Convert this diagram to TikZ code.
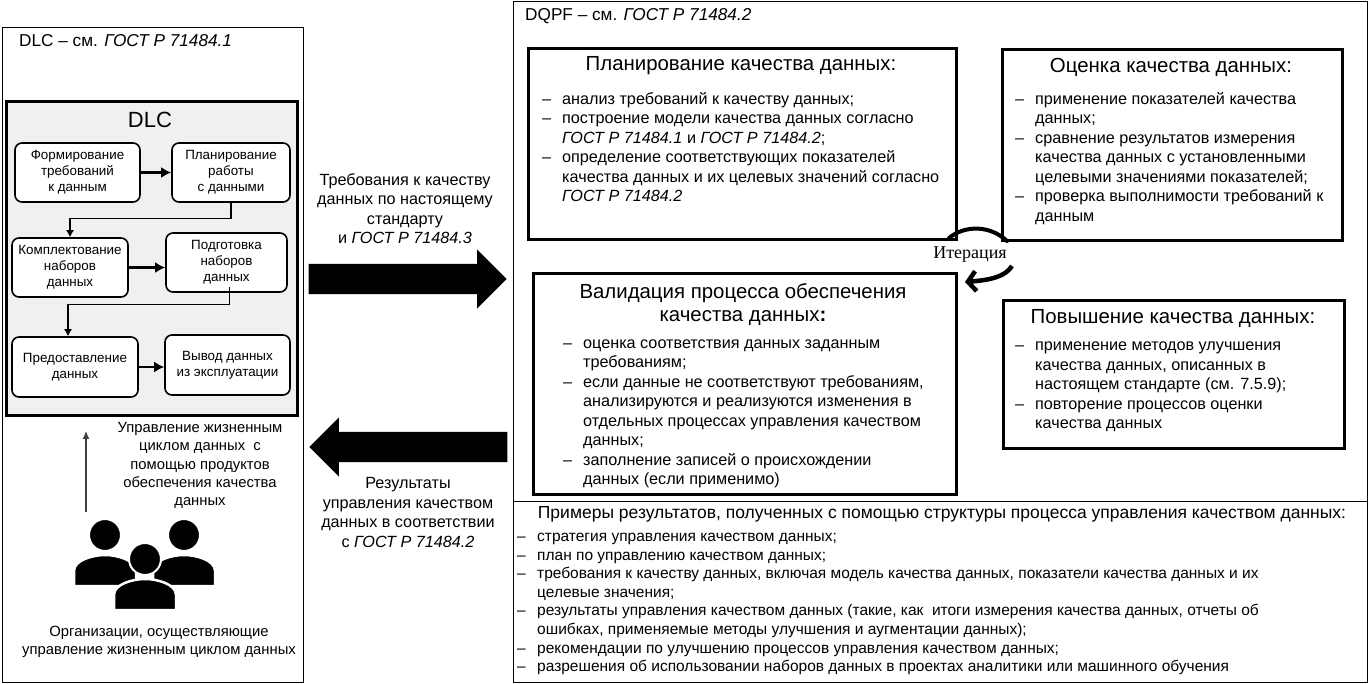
\documentclass[tikz,border=0pt]{standalone}
\usepackage{fontspec}
\setmainfont{Liberation Sans}
\newfontfamily\iterfont{Liberation Serif}
\usepackage{xcolor}
\usetikzlibrary{arrows.meta,positioning,shapes.arrows}
\definecolor{panelgray}{HTML}{F0F0F0}
\definecolor{upgray}{HTML}{404040}
\newcommand{\itm}{\makebox[20pt][l]{–}}
\newcommand{\cnt}{\hspace*{20pt}}
\tikzset{
  framebox/.style={draw=black, line width=0.8pt, anchor=north west, inner sep=0pt},
  qualbox/.style={draw=black, fill=white, line width=3pt, inner sep=0pt, anchor=north west},
  stagebox/.style={
    rounded corners=7pt,
    draw=black,
    fill=white,
    line width=1.6pt,
    align=center,
    font=\fontsize{13.4}{16}\selectfont
  },
  bodytext/.style={align=left, anchor=north west, inner sep=0pt, font=\fontsize{16.2}{19.5}\selectfont},
  listtext/.style={bodytext, font=\fontsize{15.5}{18.6}\selectfont},
  headtext/.style={align=center, inner sep=0pt, font=\fontsize{20.4}{23}\selectfont},
  flowtext/.style={align=center, inner sep=0pt, font=\fontsize{16.2}{19.5}\selectfont},
  usertext/.style={align=center, inner sep=0pt, font=\fontsize{14.8}{18.3}\selectfont},
  notetext/.style={anchor=west, inner sep=0pt, font=\fontsize{17.2}{20}\selectfont},
  bigarrow/.style={single arrow, fill=black, draw=none, inner sep=15pt, minimum height=198pt, single arrow head extend=14.5pt, single arrow tip angle=90, anchor=tip},
  stagearrow/.style={-{Latex[length=10pt,width=11pt]}, line width=2.5pt, draw=black},
  bendarrow/.style={-{Latex[length=7pt,width=8pt]}, line width=1.1pt, draw=black},
  person/.pic={
    \draw[white, fill=black, line width=2.5pt] (-31,31) -- (-31,16) .. controls (-31,5) and (-12,0) .. (0,0) .. controls (12,0) and (31,5) .. (31,16) -- (31,31) -- cycle;
    \draw[white, fill=black, line width=2pt] (0,-20) circle (16);
  }
}
\begin{document}
\begin{tikzpicture}[x=1pt,y=-1pt]
  \useasboundingbox (0,0) rectangle (1369,684);
  % outer frames
  \node[framebox, minimum width=301pt, minimum height=655pt] (leftframe) at (2,27) {};
  \node[framebox, minimum width=854pt, minimum height=500pt] (dqpfframe) at (513,1) {};
  \node[framebox, minimum width=854pt, minimum height=181pt] (resframe) at (513,501) {};
  \node[notetext] (dlcnote) at (19,41) {DLC – см. \textit{ГОСТ Р 71484.1}};
  \node[notetext] (dqpfnote) at (525,16) {DQPF – см. \textit{ГОСТ Р 71484.2}};

  % DLC panel
  \node[draw=black, fill=panelgray, line width=3pt, anchor=north west, minimum width=291pt, minimum height=314pt, inner sep=0pt] (panel) at (5,100) {};
  \node[inner sep=0pt, font=\fontsize{22}{26}\selectfont] (dlctitle) at (150,120) {DLC};
  \node[stagebox, minimum width=125pt, minimum height=59pt] (formir) at (77.5,172.5) {Формирование\\требований\\к данным};
  \node[stagebox, minimum width=118pt, minimum height=59pt] (plan) at (231,172.5) {Планирование\\работы\\с данными};
  \node[stagebox, minimum width=116pt, minimum height=59pt] (kompl) at (70,267.5) {Комплектование\\наборов\\данных};
  \node[stagebox, minimum width=121pt, minimum height=59pt] (podg) at (226.5,262.5) {Подготовка\\наборов\\данных};
  \node[stagebox, minimum width=126pt, minimum height=60pt] (pred) at (75,367) {Предоставление\\данных};
  \node[stagebox, minimum width=125pt, minimum height=60pt] (vyvod) at (227.5,365) {Вывод данных\\из эксплуатации};
  \foreach \a/\b in {formir/plan,kompl/podg,pred/vyvod} {
    \draw[stagearrow] (\a.east) -- (\a.east -| \b.west);
  }
  \draw[bendarrow] (plan.south) -- ++(0,16) -| (kompl.north);
  \draw[bendarrow] ([xshift=3pt,yshift=6pt]podg.south) -- ++(0,18) -| ([xshift=-7pt]pred.north);

  % users
  \pic at (105,555) {person};
  \pic at (184,555) {person};
  \pic at (145,579) {person};
  \coordinate (crowdtop) at (86,512);
  \coordinate (panelgap) at (86,431);
  \draw[-{Latex[length=8pt,width=7pt]}, line width=1.1pt, draw=upgray] (crowdtop) -- (panelgap);
  \node[usertext] (usetext) at (200,465.5) {Управление жизненным\\циклом данных~ с\\помощью продуктов\\обеспечения качества\\данных};
  \node[usertext] (orgtext) at (159,642) {Организации, осуществляющие\\управление жизненным циклом данных};

  % big arrows
  \node[bigarrow] (reqarrow) at (507,279) {};
  \node[bigarrow, shape border rotate=180] (resarrow) at (309,447) {};
  \node[flowtext] (reqtext) at (405,208.5) {Требования к качеству\\данных по настоящему\\стандарту\\и \textit{ГОСТ Р 71484.3}};
  \node[flowtext] (restext) at (408,512.5) {Результаты\\управления качеством\\данных в соответствии\\с \textit{ГОСТ Р 71484.2}};

  % quality boxes
  \node[qualbox, minimum width=428pt, minimum height=190.5pt] (planbox) at (527,47.5) {};
  \node[qualbox, minimum width=340pt, minimum height=191pt] (evalbox) at (1001,48) {};
  \node[qualbox, minimum width=423pt, minimum height=221pt] (validbox) at (532,272) {};
  \node[qualbox, minimum width=341pt, minimum height=148pt] (improvebox) at (1002,299) {};

  \node[headtext] (planhead) at (741,65.5) {Планирование качества данных:};
  \node[bodytext] (plantext) at (542,92) {\itm анализ требований к качеству данных;\\
    \itm построение модели качества данных согласно\\
    \cnt\textit{ГОСТ Р 71484.1} и \textit{ГОСТ Р 71484.2};\\
    \itm определение соответствующих показателей\\
    \cnt качества данных и их целевых значений согласно\\
    \cnt\textit{ГОСТ Р 71484.2}};
  \node[headtext] (evalhead) at (1171,67) {Оценка качества данных:};
  \node[bodytext] (evaltext) at (1015,92) {\itm применение показателей качества\\
    \cnt данных;\\
    \itm сравнение результатов измерения\\
    \cnt качества данных с установленными\\
    \cnt целевыми значениями показателей;\\
    \itm проверка выполнимости требований к\\
    \cnt данным};
  \node[headtext] (validhead) at (743,304.5) {Валидация процесса обеспечения\\качества данных\textbf{:}};
  \node[bodytext] (validlist) at (563,339.5) {\itm оценка соответствия данных заданным\\
    \cnt требованиям;\\
    \itm если данные не соответствуют требованиям,\\
    \cnt анализируются и реализуются изменения в\\
    \cnt отдельных процессах управления качеством\\
    \cnt данных;\\
    \itm заполнение записей о происхождении\\
    \cnt данных (если применимо)};
  \node[headtext] (improvehead) at (1173,319) {Повышение качества данных:};
  \node[bodytext] (improvetext) at (1015,342) {\itm применение методов улучшения\\
    \cnt качества данных, описанных в\\
    \cnt настоящем стандарте (см. 7.5.9);\\
    \itm повторение процессов оценки\\
    \cnt качества данных};

  % iteration
  \node[inner sep=0pt, font=\iterfont\fontsize{18}{20}\selectfont] (iter) at (970,255) {Итерация};
  \coordinate (iterleft) at (949,238);
  \coordinate (iterright) at (1007,241);
  \draw[line width=4pt, line cap=round] (iterleft) .. controls (965,225) and (990,225) .. (iterright);
  \coordinate (iterstart) at (1012,266);
  \coordinate (iterend) at (965,282);
  \draw[-{Straight Barb[length=8pt,width=20pt]}, line width=4.5pt] (iterstart) .. controls (1005,277) and (990,280) .. (iterend);

  % results
  \node[inner sep=0pt, font=\fontsize{17.5}{20}\selectfont] (reshead) at (942,514) {Примеры результатов, полученных с помощью структуры процесса управления качеством данных:};
  \node[listtext] (reslist) at (517,533) {\itm стратегия управления качеством данных;\\
    \itm план по управлению качеством данных;\\
    \itm требования к качеству данных, включая модель качества данных, показатели качества данных и их\\
    \cnt целевые значения;\\
    \itm результаты управления качеством данных (такие, как~ итоги измерения качества данных, отчеты об\\
    \cnt ошибках, применяемые методы улучшения и аугментации данных);\\
    \itm рекомендации по улучшению процессов управления качеством данных;\\
    \itm разрешения об использовании наборов данных в проектах аналитики или машинного обучения};
\end{tikzpicture}
\end{document}
